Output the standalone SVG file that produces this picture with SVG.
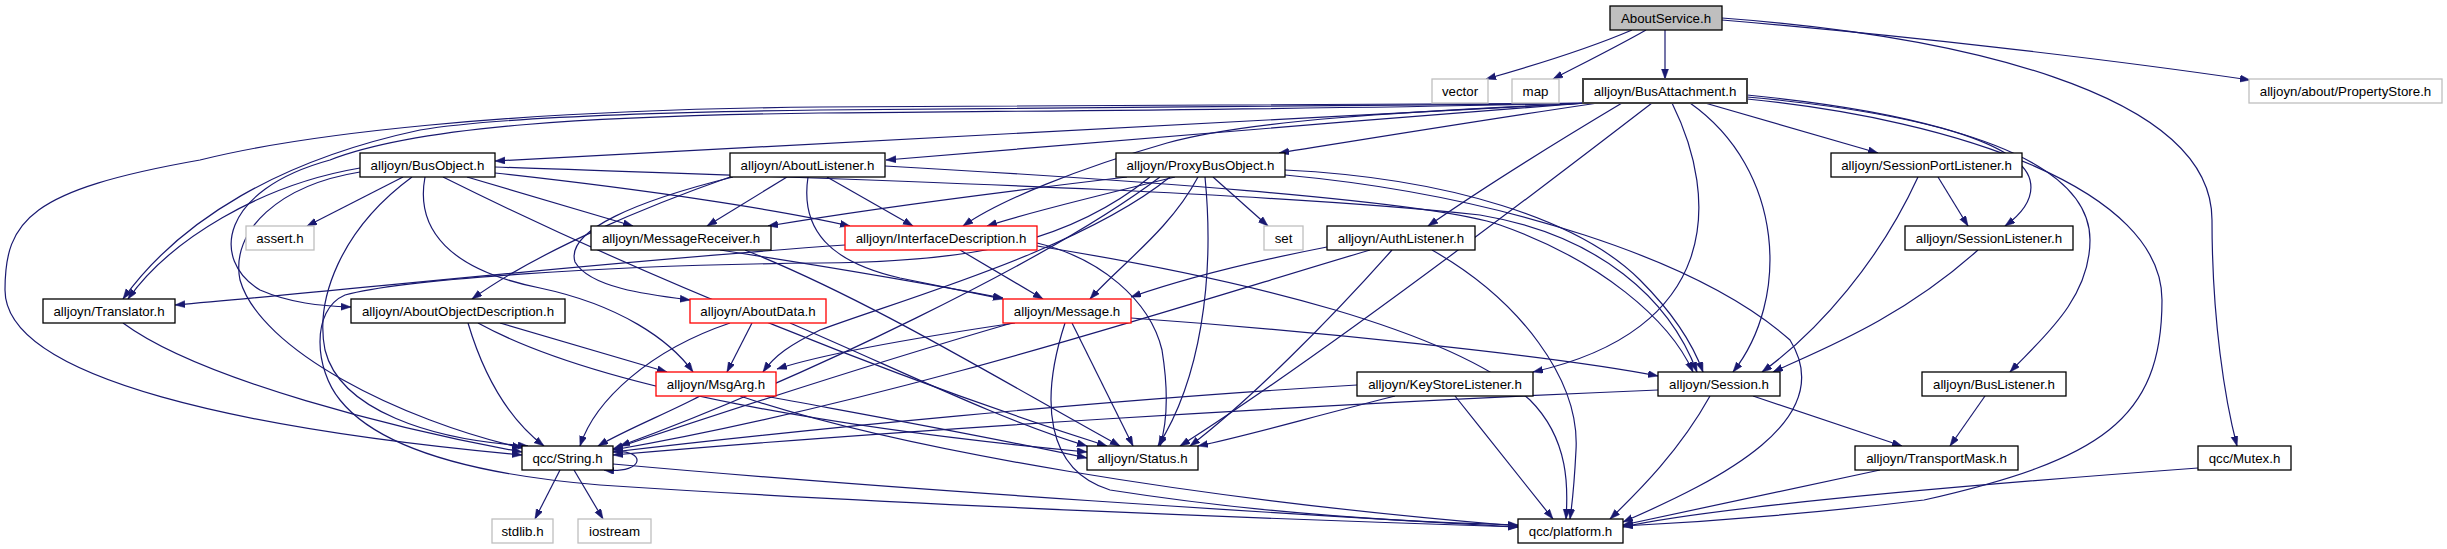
<svg xmlns="http://www.w3.org/2000/svg" width="2447" height="549" viewBox="0 0 2447 549">
<style>
.n rect{fill:#fff;stroke:#000;stroke-width:1.3}
.n.g rect{stroke:#bfbfbf}
.n.r rect{stroke:#ff0000}
.n.root rect{fill:#bfbfbf}
.n text{font-family:"Liberation Sans",Arial,Helvetica,sans-serif;font-size:13.3px;text-anchor:middle;fill:#000}
.e path{fill:none;stroke:#191970;stroke-width:1.2;marker-end:url(#a)}
</style>
<defs>
<marker id="a" markerUnits="userSpaceOnUse" markerWidth="11" markerHeight="8" refX="10" refY="3.5" orient="auto">
<path d="M0,0 L10,3.5 L0,7 z" fill="#191970" stroke="#191970" stroke-width="0.5"/>
</marker>
</defs>
<rect width="2447" height="549" fill="#fff"/>
<g class="e" id="edges">
<path d="M1632,30 C1590,48 1525,68 1486,79"/>
<path d="M1646,30 C1620,45 1580,65 1553,79"/>
<path d="M1665,30 L1665,79"/>
<path d="M1722,20 C1900,35 2100,58 2250,80"/>
<path d="M1722,18 C1950,35 2212,90 2212,220 C2212,320 2225,400 2237,446"/>
<path d="M1588,103 C1300,115 900,140 495,161"/>
<path d="M1586,103 C1350,120 1050,148 886,160"/>
<path d="M1598,103 C1470,122 1360,140 1279,153"/>
<path d="M1705,103 L1878,153"/>
<path d="M1747,95 C1900,110 2020,140 2030,180 C2035,200 2020,215 2005,226"/>
<path d="M1592,103 C1400,112 1250,120 1167,143 C1080,168 1000,200 963,226"/>
<path d="M1622,103 C1560,140 1480,190 1428,226"/>
<path d="M1652,103 C1500,220 1300,370 1180,446"/>
<path d="M1672,103 C1720,200 1720,330 1533,372"/>
<path d="M1690,103 C1785,170 1790,300 1733,372"/>
<path d="M1747,97 C1950,115 2090,160 2090,240 C2090,300 2040,340 2010,372"/>
<path d="M1747,99 C1960,120 2162,190 2162,300 C2162,420 2100,460 1924,500 C1800,515 1700,522 1623,526"/>
<path d="M1590,103 C1300,108 1000,108 820,110 C600,113 480,120 420,130 C280,160 180,220 123,299"/>
<path d="M1594,103 C1300,110 1000,111 820,113 C600,116 420,125 330,160 C220,190 210,260 260,290 C290,303 320,306 351,307"/>
<path d="M1596,103 C1300,106 1000,105 820,107 C500,110 300,135 200,160 C30,190 5,220 5,290 C5,380 250,430 522,455"/>
<path d="M403,177 L307,226"/>
<path d="M467,177 L633,226"/>
<path d="M495,173 C650,190 780,210 850,226"/>
<path d="M495,167 C800,178 1250,190 1480,215 C1600,235 1670,300 1697,372"/>
<path d="M360,168 C260,185 170,240 128,299"/>
<path d="M360,172 C280,185 230,230 240,280 C260,350 400,420 522,448"/>
<path d="M425,177 C415,230 450,270 540,288 C620,305 670,340 693,372"/>
<path d="M443,177 C650,280 900,380 1107,446"/>
<path d="M412,177 C340,230 315,300 325,350 C340,410 430,440 528,446"/>
<path d="M1127,177 C1000,192 850,212 768,226"/>
<path d="M1175,177 C1100,195 1030,212 987,226"/>
<path d="M1213,177 L1268,226"/>
<path d="M1198,177 C1170,230 1120,265 1090,299"/>
<path d="M1170,177 C1080,250 900,300 820,330 C790,345 775,355 763,372"/>
<path d="M1160,177 C1050,260 800,380 620,446"/>
<path d="M1205,177 C1215,280 1200,380 1158,446"/>
<path d="M1150,177 C1060,250 950,262 820,263 C600,265 400,280 345,295 C310,310 315,370 340,400 C380,450 480,475 600,485 C900,505 1300,520 1518,527"/>
<path d="M1285,170 C1450,178 1580,220 1640,280 C1680,320 1695,350 1703,372"/>
<path d="M1285,175 C1500,195 1700,260 1790,340 C1840,420 1720,480 1623,522"/>
<path d="M730,177 C650,205 540,250 472,299"/>
<path d="M733,177 C640,200 565,230 575,262 C590,288 650,295 690,300"/>
<path d="M787,177 L707,226"/>
<path d="M827,177 L913,226"/>
<path d="M808,177 C800,230 830,262 900,278 C950,288 975,293 1003,299"/>
<path d="M885,166 C1100,178 1430,200 1500,225 C1600,260 1670,320 1693,372"/>
<path d="M845,245 C600,262 350,290 175,305"/>
<path d="M960,250 L1043,299"/>
<path d="M1037,243 C1100,258 1150,300 1162,350 C1170,400 1165,430 1160,446"/>
<path d="M1037,246 C1250,280 1450,330 1530,400 C1570,440 1568,490 1566,519"/>
<path d="M720,250 C850,270 950,288 1003,298"/>
<path d="M745,250 C870,300 1000,380 1120,446"/>
<path d="M1327,247 C1250,262 1180,280 1131,297"/>
<path d="M1370,250 C1200,300 900,400 613,450"/>
<path d="M1392,250 C1330,320 1250,400 1190,446"/>
<path d="M1432,250 C1520,300 1580,380 1576,450 C1574,490 1572,505 1570,519"/>
<path d="M468,323 C485,380 510,420 544,446"/>
<path d="M500,323 L667,372"/>
<path d="M478,323 C600,390 850,430 1087,452"/>
<path d="M752,323 L727,372"/>
<path d="M730,323 C650,350 595,400 580,446"/>
<path d="M790,323 C900,370 1000,420 1087,446"/>
<path d="M1015,323 C900,340 820,355 777,369"/>
<path d="M1012,323 C850,370 700,420 613,449"/>
<path d="M1072,323 L1133,446"/>
<path d="M1065,323 C1040,400 1045,470 1110,490 C1250,512 1400,522 1518,525"/>
<path d="M1131,318 C1300,330 1550,355 1658,376"/>
<path d="M700,396 C670,412 625,430 598,446"/>
<path d="M765,396 C850,412 980,435 1087,458"/>
<path d="M740,396 C900,450 1200,500 1518,526"/>
<path d="M1357,385 C1100,400 800,430 613,452"/>
<path d="M1395,396 C1300,420 1250,435 1198,446"/>
<path d="M1455,396 C1490,440 1530,490 1553,519"/>
<path d="M1658,390 C1300,405 900,430 613,455"/>
<path d="M1753,396 L1902,446"/>
<path d="M1710,396 C1680,450 1640,490 1610,519"/>
<path d="M1938,177 L1968,226"/>
<path d="M1918,177 C1880,260 1820,330 1762,372"/>
<path d="M1978,250 C1900,320 1820,350 1773,372"/>
<path d="M1985,396 L1950,446"/>
<path d="M1880,470 L1623,525"/>
<path d="M2198,468 C1900,490 1700,510 1623,527"/>
<path d="M560,470 L535,519"/>
<path d="M574,470 L603,519"/>
<path d="M613,464 C900,490 1300,515 1518,527"/>
<path d="M613,452 C645,448 648,474 604,470"/>
<path d="M123,323 C200,380 400,430 522,452"/>
</g>
<g id="n_aboutservice" class="n root"><rect x="1610" y="6" width="112" height="24"/><text x="1666" y="23">AboutService.h</text></g>
<g id="n_vector" class="n g"><rect x="1432" y="79" width="56" height="24"/><text x="1460" y="96">vector</text></g>
<g id="n_map" class="n g"><rect x="1512" y="79" width="47" height="24"/><text x="1535.5" y="96">map</text></g>
<g id="n_busattachment" class="n"><rect x="1583" y="79" width="164" height="24" style="stroke:#404040;stroke-width:2"/><text x="1665" y="96">alljoyn/BusAttachment.h</text></g>
<g id="n_propertystore" class="n g"><rect x="2249" y="79" width="193" height="24"/><text x="2345.5" y="96">alljoyn/about/PropertyStore.h</text></g>
<g id="n_busobject" class="n"><rect x="360" y="153" width="135" height="24"/><text x="427.5" y="170">alljoyn/BusObject.h</text></g>
<g id="n_aboutlistener" class="n"><rect x="730" y="153" width="155" height="24"/><text x="807.5" y="170">alljoyn/AboutListener.h</text></g>
<g id="n_proxybusobject" class="n"><rect x="1116" y="153" width="169" height="24"/><text x="1200.5" y="170">alljoyn/ProxyBusObject.h</text></g>
<g id="n_sessionportlistener" class="n"><rect x="1831" y="153" width="191" height="24"/><text x="1926.5" y="170">alljoyn/SessionPortListener.h</text></g>
<g id="n_assert" class="n g"><rect x="246" y="226" width="68" height="24"/><text x="280" y="243">assert.h</text></g>
<g id="n_messagereceiver" class="n"><rect x="591" y="226" width="180" height="24"/><text x="681" y="243">alljoyn/MessageReceiver.h</text></g>
<g id="n_interfacedescription" class="n r"><rect x="845" y="226" width="192" height="24"/><text x="941" y="243">alljoyn/InterfaceDescription.h</text></g>
<g id="n_set" class="n g"><rect x="1264" y="226" width="39" height="24"/><text x="1283.5" y="243">set</text></g>
<g id="n_authlistener" class="n"><rect x="1327" y="226" width="148" height="24"/><text x="1401" y="243">alljoyn/AuthListener.h</text></g>
<g id="n_sessionlistener" class="n"><rect x="1905" y="226" width="168" height="24"/><text x="1989" y="243">alljoyn/SessionListener.h</text></g>
<g id="n_translator" class="n"><rect x="43" y="299" width="132" height="24"/><text x="109" y="316">alljoyn/Translator.h</text></g>
<g id="n_aboutobjectdescription" class="n"><rect x="351" y="299" width="214" height="24"/><text x="458" y="316">alljoyn/AboutObjectDescription.h</text></g>
<g id="n_aboutdata" class="n r"><rect x="690" y="299" width="136" height="24"/><text x="758" y="316">alljoyn/AboutData.h</text></g>
<g id="n_message" class="n r"><rect x="1003" y="299" width="128" height="24"/><text x="1067" y="316">alljoyn/Message.h</text></g>
<g id="n_msgarg" class="n r"><rect x="656" y="372" width="120" height="24"/><text x="716" y="389">alljoyn/MsgArg.h</text></g>
<g id="n_keystorelistener" class="n"><rect x="1357" y="372" width="176" height="24"/><text x="1445" y="389">alljoyn/KeyStoreListener.h</text></g>
<g id="n_session" class="n"><rect x="1658" y="372" width="122" height="24"/><text x="1719" y="389">alljoyn/Session.h</text></g>
<g id="n_buslistener" class="n"><rect x="1922" y="372" width="144" height="24"/><text x="1994" y="389">alljoyn/BusListener.h</text></g>
<g id="n_string" class="n"><rect x="522" y="446" width="91" height="24"/><text x="567.5" y="463">qcc/String.h</text></g>
<g id="n_status" class="n"><rect x="1087" y="446" width="111" height="24"/><text x="1142.5" y="463">alljoyn/Status.h</text></g>
<g id="n_transportmask" class="n"><rect x="1855" y="446" width="163" height="24"/><text x="1936.5" y="463">alljoyn/TransportMask.h</text></g>
<g id="n_mutex" class="n"><rect x="2198" y="446" width="93" height="24"/><text x="2244.5" y="463">qcc/Mutex.h</text></g>
<g id="n_stdlib" class="n g"><rect x="492" y="519" width="61" height="24"/><text x="522.5" y="536">stdlib.h</text></g>
<g id="n_iostream" class="n g"><rect x="578" y="519" width="73" height="24"/><text x="614.5" y="536">iostream</text></g>
<g id="n_platform" class="n"><rect x="1518" y="519" width="105" height="24"/><text x="1570.5" y="536">qcc/platform.h</text></g>
</svg>
